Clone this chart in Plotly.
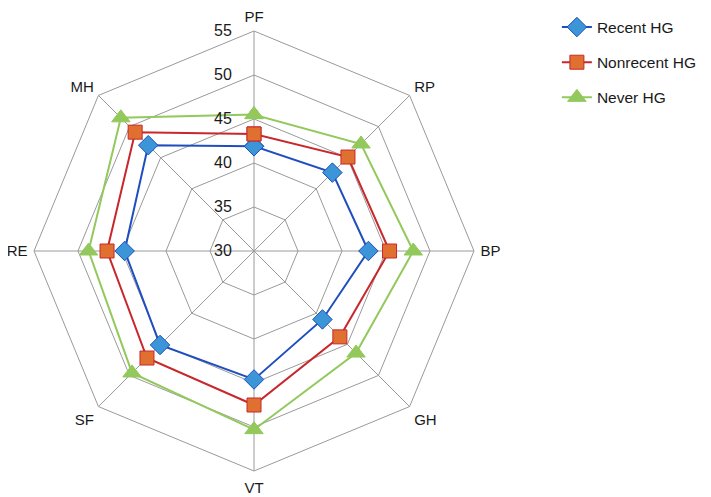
import plotly.graph_objects as go

categories = ['PF', 'RP', 'BP', 'GH', 'VT', 'SF', 'RE', 'MH']
recent_hg = [41.9, 42.6, 43.0, 41.0, 44.6, 45.1, 44.7, 47.0]
nonrecent_hg = [43.3, 45.1, 45.4, 43.8, 47.5, 47.2, 46.7, 49.1]
never_hg = [45.5, 47.2, 48.1, 46.4, 50.3, 49.6, 48.8, 51.4]

series = [
    ('Recent HG', recent_hg, '#1f4fbf', '#3b95d6', 'diamond', 15),
    ('Nonrecent HG', nonrecent_hg, '#c8282c', '#e0702f', 'square', 14),
    ('Never HG', never_hg, '#93c95c', '#93c95c', 'triangle-up', 16),
]

fig = go.Figure()
for i, (name, vals, lc, mc, sym, size) in enumerate(series):
    fig.add_trace(go.Scatterpolar(
        r=vals + vals[:1],
        theta=categories + categories[:1],
        name=name,
        mode='lines+markers',
        line=dict(color=lc, width=2),
        marker=dict(symbol=sym, size=size, color=mc, line=dict(color=lc, width=1)),
        legendgroup=str(i),
    ))

fig.update_layout(
    width=711, height=497,
    margin=dict(l=0, r=0, t=0, b=0),
    paper_bgcolor='white',
    font=dict(family='Liberation Sans, Arial, sans-serif', size=15, color='#1a1a1a'),
    polar=dict(
        domain=dict(x=[26 / 711, 466 / 711], y=[34 / 497, 474 / 497]),
        bgcolor='white',
        gridshape='linear',
        angularaxis=dict(
            direction='clockwise', rotation=90,
            gridcolor='#9a9a9a', linecolor='#9a9a9a', gridwidth=1,
            ticks='outside', ticklen=3, tickcolor='rgba(0,0,0,0)',
            tickfont=dict(size=15),
        ),
        radialaxis=dict(
            range=[30, 55], tickvals=[30, 35, 40, 45, 50, 55],
            angle=90, tickangle=90, side='counterclockwise',
            gridcolor='#9a9a9a', showline=False,
            ticks='outside', ticklen=16, tickcolor='rgba(0,0,0,0)',
            tickfont=dict(size=16),
        ),
    ),
    legend=dict(x=0.772, y=0.995, xanchor='left', yanchor='top',
                tracegroupgap=12, font=dict(size=15.5)),
)

fig.write_html('out.html')
